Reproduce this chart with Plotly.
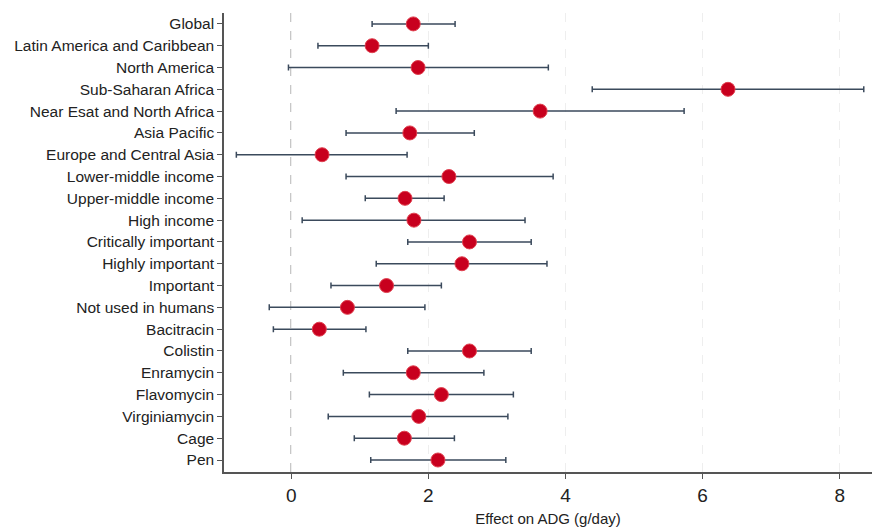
import plotly.graph_objects as go

categories = ["Global", "Latin America and Caribbean", "North America", "Sub-Saharan Africa",
              "Near Esat and North Africa", "Asia Pacific", "Europe and Central Asia",
              "Lower-middle income", "Upper-middle income", "High income",
              "Critically important", "Highly important", "Important", "Not used in humans",
              "Bacitracin", "Colistin", "Enramycin", "Flavomycin", "Virginiamycin", "Cage", "Pen"]
effect = [1.78, 1.18, 1.85, 6.37, 3.63, 1.73, 0.45, 2.30, 1.66, 1.79,
          2.60, 2.49, 1.39, 0.82, 0.41, 2.60, 1.78, 2.19, 1.86, 1.65, 2.14]
lower = [1.18, 0.39, -0.04, 4.39, 1.53, 0.80, -0.80, 0.80, 1.08, 0.16,
         1.70, 1.24, 0.58, -0.32, -0.26, 1.70, 0.76, 1.14, 0.54, 0.92, 1.16]
upper = [2.39, 2.00, 3.75, 8.35, 5.73, 2.67, 1.69, 3.82, 2.23, 3.41,
         3.50, 3.73, 2.19, 1.95, 1.09, 3.50, 2.81, 3.24, 3.16, 2.38, 3.13]
x_ticks = [0, 2, 4, 6, 8]

err_plus = [u - e for u, e in zip(upper, effect)]
err_minus = [e - l for e, l in zip(effect, lower)]

fig = go.Figure()
fig.add_trace(go.Scatter(
    x=effect, y=categories, mode="markers",
    marker=dict(size=14, color="#c8001e", line=dict(color="#e0404f", width=1)),
    error_x=dict(type="data", symmetric=False, array=err_plus, arrayminus=err_minus,
                 color="#3b4a5c", thickness=1.5, width=3),
    showlegend=False,
))
fig.add_shape(type="line", x0=0, x1=0, y0=0, y1=1, yref="paper", xref="x",
              line=dict(color="#9a9a9a", width=1.5, dash="dash"), layer="below")

fig.update_layout(
    width=872, height=531,
    margin=dict(l=224, r=0, t=13, b=59),
    plot_bgcolor="white", paper_bgcolor="white",
    font=dict(family="Liberation Sans, Arial, sans-serif", color="#222222", size=15),
    xaxis=dict(range=[-0.98, 8.47], tickvals=x_ticks, ticks="outside", ticklen=5,
               tickcolor="#555555", showline=True, linecolor="#555555", linewidth=1.5,
               showgrid=True, gridcolor="#eeeeee", griddash="dash", gridwidth=1,
               zeroline=False, tickfont=dict(size=19),
               title=dict(text="Effect on ADG (g/day)", font=dict(size=15), standoff=9)),
    yaxis=dict(type="category", categoryorder="array", categoryarray=categories,
               range=[20.55, -0.5], ticks="outside", ticklen=5, tickcolor="#555555",
               showline=True, linecolor="#555555", linewidth=1.5, showgrid=False,
               zeroline=False, tickfont=dict(size=15.5)),
)

fig.write_html("out.html")
